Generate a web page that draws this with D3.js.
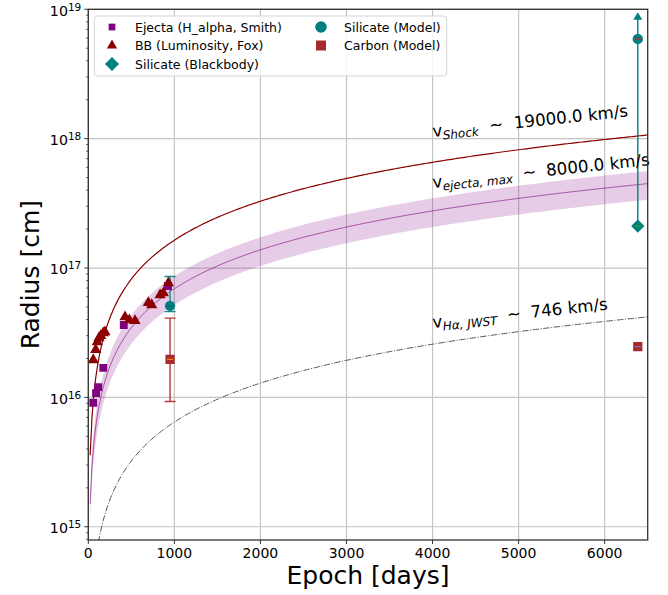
<!DOCTYPE html>
<html>
<head>
<meta charset="utf-8">
<script src="https://cdn.jsdelivr.net/npm/d3@7"></script>
<style>
  html, body { margin: 0; padding: 0; background: #fff; }
  svg { display: block; font-family: "DejaVu Sans", sans-serif; }
</style>
</head>
<body>
<svg id="chart" width="668" height="595"></svg>
<script>
// ---- data (epoch in days, radius in cm) ----
const ejectaDays = [58, 90, 116, 174, 412, 926];
const ejectaRadius = [9.1e15, 1.08e16, 1.2e16, 1.69e16, 3.63e16, 7.27e16];

const bbDays = [58, 86, 105, 124, 144, 174, 194, 427, 477, 543, 698, 737, 834, 872, 930];
const bbRadius = [1.95e16, 2.33e16, 2.68e16, 2.88e16, 2.99e16, 3.15e16, 3.2e16,
                  4.19e16, 3.97e16, 3.92e16, 5.4e16, 5.19e16, 6.2e16, 6.42e16, 7.67e16];

const siliBBDays = [6385];
const siliBBRadius = [2.11e17];

const siliModelDays = [950, 6385];
const siliModelRadius = [5.1e16, 5.9e18];
const siliModelLow = [4.6e16, 2.11e17];
const siliModelHigh = [8.6e16, 9.5e18];
const siliModelUpperLimit = [false, true];

const carbonDays = [950, 6385];
const carbonRadius = [1.97e16, 2.47e16];
const carbonLow = [9.3e15, null];
const carbonHigh = [4.1e16, null];

// expansion velocities (km/s) for R = v t
const vShock = 19000;
const vEjecta = 8000;
const vEjectaBand = [6000, 10000];
const vJWST = 746;

const xTicks = [0, 1000, 2000, 3000, 4000, 5000, 6000];
const yTickExp = [15, 16, 17, 18, 19];

// ---- layout ----
const svg = d3.select("#chart");
const L = 88.3, R = 647.7, T = 9.3, B = 540;
const x = d3.scaleLinear().domain([0, 6500]).range([L, R]);
const y = d3.scaleLog().domain([7.9e14, 1e19]).range([B, T]);

const DAY = 86400, KM = 1e5;
const radiusAt = (v, t) => v * KM * t * DAY;

svg.append("defs").append("clipPath").attr("id", "plotclip")
  .append("rect").attr("x", L).attr("y", T).attr("width", R - L).attr("height", B - T);

// grid
const grid = svg.append("g");
xTicks.forEach(t => {
  grid.append("line").attr("x1", x(t)).attr("x2", x(t)).attr("y1", T).attr("y2", B)
    .attr("stroke", "#c4c4c4").attr("stroke-width", 1.2);
});
yTickExp.forEach(e => {
  grid.append("line").attr("x1", L).attr("x2", R).attr("y1", y(Math.pow(10, e))).attr("y2", y(Math.pow(10, e)))
    .attr("stroke", "#c4c4c4").attr("stroke-width", 1.2);
});

const plot = svg.append("g").attr("clip-path", "url(#plotclip)");

// model curves on an evenly spaced time grid (t = 0 is dropped on the log axis)
const nT = 300;
const tSamples = d3.range(1, nT).map(i => i * 6500 / (nT - 1));
const curve = v => d3.line().x(t => x(t)).y(t => y(radiusAt(v, t)));

const band = d3.area()
  .x(t => x(t))
  .y0(t => y(radiusAt(vEjectaBand[0], t)))
  .y1(t => y(radiusAt(vEjectaBand[1], t)));
plot.append("path").datum(tSamples).attr("d", band)
  .attr("fill", "#800080").attr("fill-opacity", 0.2);
plot.append("path").datum(tSamples).attr("d", curve(vEjecta))
  .attr("fill", "none").attr("stroke", "#800080").attr("stroke-opacity", 0.6).attr("stroke-width", 1);
plot.append("path").datum(tSamples).attr("d", curve(vShock))
  .attr("fill", "none").attr("stroke", "#8b0000").attr("stroke-width", 1.2);
plot.append("path").datum(tSamples).attr("d", curve(vJWST))
  .attr("fill", "none").attr("stroke", "#555").attr("stroke-width", 1)
  .attr("stroke-dasharray", "6.4,1.6,1,1.6");

// markers
const sym = (type, size) => d3.symbol().type(type).size(size)();

// error bars
function errBar(g, cx, lo, hi, color, capW) {
  g.append("line").attr("x1", cx).attr("x2", cx).attr("y1", y(lo)).attr("y2", y(hi))
    .attr("stroke", color).attr("stroke-width", 1.4);
  [lo, hi].forEach(v => g.append("line").attr("x1", cx - capW).attr("x2", cx + capW)
    .attr("y1", y(v)).attr("y2", y(v)).attr("stroke", color).attr("stroke-width", 1.4));
}

const marks = plot.append("g");

// carbon model error bars
carbonDays.forEach((d, i) => {
  if (carbonLow[i] !== null) errBar(marks, x(d), carbonLow[i], carbonHigh[i], "#b03a3a", 5.5);
});

// silicate model error bars
siliModelDays.forEach((d, i) => {
  if (siliModelUpperLimit[i]) {
    marks.append("line").attr("x1", x(d)).attr("x2", x(d))
      .attr("y1", y(siliModelLow[i])).attr("y2", y(siliModelHigh[i]) + 5)
      .attr("stroke", "#008080").attr("stroke-width", 1.4);
    marks.append("path")
      .attr("d", `M${x(d)},${y(siliModelHigh[i])} l-4.5,7.5 l9,0 z`)
      .attr("fill", "#008080");
  } else {
    errBar(marks, x(d), siliModelLow[i], siliModelHigh[i], "#1a8a8a", 5.5);
  }
});

// ejecta squares
ejectaDays.forEach((d, i) => {
  marks.append("path").attr("d", sym(d3.symbolSquare, 62))
    .attr("transform", `translate(${x(d)},${y(ejectaRadius[i])})`).attr("fill", "#800080");
});
// BB triangles
bbDays.forEach((d, i) => {
  marks.append("path").attr("d", sym(d3.symbolTriangle, 55))
    .attr("transform", `translate(${x(d)},${y(bbRadius[i])})`).attr("fill", "#8b0000");
});
// silicate blackbody diamond
siliBBDays.forEach((d, i) => {
  marks.append("path").attr("d", sym(d3.symbolSquare, 88))
    .attr("transform", `translate(${x(d)},${y(siliBBRadius[i])}) rotate(45)`).attr("fill", "#008080");
  marks.append("line").attr("x1", x(d) - 3).attr("x2", x(d) + 3)
    .attr("y1", y(siliBBRadius[i])).attr("y2", y(siliBBRadius[i]))
    .attr("stroke", "#2ca02c").attr("stroke-width", 1.2);
});
// silicate model circles
siliModelDays.forEach((d, i) => {
  marks.append("circle").attr("cx", x(d)).attr("cy", y(siliModelRadius[i])).attr("r", 5.2)
    .attr("fill", "#008080");
  marks.append("line").attr("x1", x(d) - 3).attr("x2", x(d) + 3)
    .attr("y1", y(siliModelRadius[i])).attr("y2", y(siliModelRadius[i]))
    .attr("stroke", i === 0 ? "#006060" : "#d62728").attr("stroke-width", 1.2);
});
// carbon model squares
carbonDays.forEach((d, i) => {
  marks.append("path").attr("d", sym(d3.symbolSquare, 85))
    .attr("transform", `translate(${x(d)},${y(carbonRadius[i])})`).attr("fill", "#a52a2a");
  marks.append("line").attr("x1", x(d) - 3).attr("x2", x(d) + 3)
    .attr("y1", y(carbonRadius[i])).attr("y2", y(carbonRadius[i]))
    .attr("stroke", i === 0 ? "#ff7f0e" : "#9467bd").attr("stroke-width", 1.2);
});

// velocity annotations
function velLabel(px, py, sub, rest, gap) {
  const t = svg.append("text").attr("transform", `translate(${px},${py}) rotate(-6)`)
    .attr("font-size", 16.7).attr("fill", "#000");
  t.append("tspan").text("v");
  t.append("tspan").attr("dy", 3.5).attr("font-size", 12).attr("font-style", "italic").text(sub);
  t.append("tspan").attr("dy", -3.5).attr("dx", gap).text("~");
  t.append("tspan").attr("dx", gap).text(rest);
}
velLabel(433, 137, "Shock", `${vShock.toFixed(1)} km/s`, 11);
velLabel(433, 188, "ejecta, max", `${vEjecta.toFixed(1)} km/s`, 10);
velLabel(433, 328, "H\u03b1, JWST", `${vJWST} km/s`, 10);

// axes frame
svg.append("rect").attr("x", L).attr("y", T).attr("width", R - L).attr("height", B - T)
  .attr("fill", "none").attr("stroke", "#333").attr("stroke-width", 1.3);

// x ticks
const xAxis = svg.append("g");
xTicks.forEach(t => {
  xAxis.append("line").attr("x1", x(t)).attr("x2", x(t)).attr("y1", B).attr("y2", B + 4)
    .attr("stroke", "#333").attr("stroke-width", 1);
  xAxis.append("text").attr("x", x(t)).attr("y", B + 17.5).attr("text-anchor", "middle")
    .attr("font-size", 14).text(t);
});

// y ticks (log, with minors)
const yAxis = svg.append("g");
for (let e = 14; e <= 18; e++) {
  for (let m = 1; m <= 9; m++) {
    const v = m * Math.pow(10, e);
    if (v < y.domain()[0] || v > y.domain()[1]) continue;
    const major = m === 1;
    yAxis.append("line").attr("x1", L - (major ? 4 : 2.2)).attr("x2", L)
      .attr("y1", y(v)).attr("y2", y(v)).attr("stroke", "#333").attr("stroke-width", major ? 1 : 0.8);
  }
}
yTickExp.forEach(e => {
  const t = yAxis.append("text").attr("x", L - 7).attr("y", y(Math.pow(10, e)) + 6.4)
    .attr("text-anchor", "end").attr("font-size", 14.2);
  t.append("tspan").text("10");
  t.append("tspan").attr("dy", -5).attr("font-size", 10.5).text(e);
});
yAxis.append("line").attr("x1", L - 4).attr("x2", L).attr("y1", y(1e19)).attr("y2", y(1e19))
  .attr("stroke", "#333");

// axis titles
svg.append("text").attr("x", (L + R) / 2).attr("y", 584).attr("text-anchor", "middle")
  .attr("font-size", 25).text("Epoch [days]");
svg.append("text").attr("transform", `translate(39,${(T + B) / 2}) rotate(-90)`)
  .attr("text-anchor", "middle").attr("font-size", 25).text("Radius [cm]");

// legend
const leg = svg.append("g");
leg.append("rect").attr("x", 94.3).attr("y", 16).attr("width", 352.4).attr("height", 60)
  .attr("rx", 3).attr("fill", "#fff").attr("fill-opacity", 0.85)
  .attr("stroke", "#d6d6d6").attr("stroke-width", 1);
const legendItems = [
  { label: "Ejecta (H_alpha, Smith)", col: 0, row: 0, draw: g => g.append("path").attr("d", sym(d3.symbolSquare, 45)).attr("fill", "#800080") },
  { label: "BB (Luminosity, Fox)", col: 0, row: 1, draw: g => g.append("path").attr("d", sym(d3.symbolTriangle, 45)).attr("fill", "#8b0000") },
  { label: "Silicate (Blackbody)", col: 0, row: 2, draw: g => g.append("path").attr("d", sym(d3.symbolSquare, 100)).attr("transform", "rotate(45)").attr("fill", "#008080") },
  { label: "Silicate (Model)", col: 1, row: 0, draw: g => g.append("circle").attr("r", 5.8).attr("fill", "#008080") },
  { label: "Carbon (Model)", col: 1, row: 1, draw: g => g.append("path").attr("d", sym(d3.symbolSquare, 100)).attr("fill", "#a52a2a") },
];
const colMarkX = [112, 321], colTextX = [135, 344], rowY = [27, 45.5, 64];
legendItems.forEach(it => {
  const g = leg.append("g").attr("transform", `translate(${colMarkX[it.col]},${rowY[it.row]})`);
  it.draw(g);
  leg.append("text").attr("x", colTextX[it.col]).attr("y", rowY[it.row] + 4.5)
    .attr("font-size", 12.5).text(it.label);
});
</script>
</body>
</html>
